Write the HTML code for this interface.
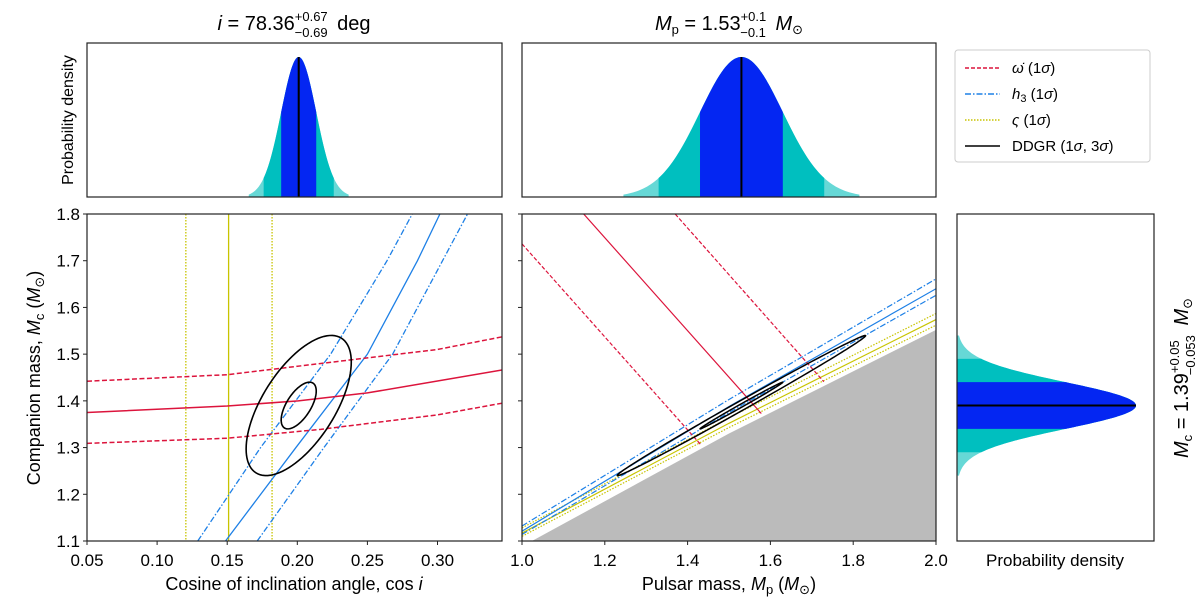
<!DOCTYPE html>
<html><head><meta charset="utf-8">
<style>
html,body{margin:0;padding:0;background:#fff;}
svg{display:block;font-family:"Liberation Sans","DejaVu Sans",sans-serif;}
</style></head>
<body>
<svg id="fig" width="1200" height="598" viewBox="0 0 1200 598" xmlns="http://www.w3.org/2000/svg"></svg>
<script>
// ---------- data ----------
const cosiTicks = [0.05,0.10,0.15,0.20,0.25,0.30];
const cosiTickLabels = ["0.05","0.10","0.15","0.20","0.25","0.30"];
const mpTicks = [1.0,1.2,1.4,1.6,1.8,2.0];
const mpTickLabels = ["1.0","1.2","1.4","1.6","1.8","2.0"];
const mcTicks = [1.1,1.2,1.3,1.4,1.5,1.6,1.7,1.8];
const mcTickLabels = ["1.1","1.2","1.3","1.4","1.5","1.6","1.7","1.8"];

// posterior parameters [mean, sigma]
const cosiPost = [0.201, 0.0125];
const mpPost = [1.53, 0.1];
const mcPost = [1.39, 0.05];
const ddgrRho = [0.62, 0.997]; // correlation in left / middle panels
const contourLevels = [1, 3];

// left panel curves (cos i, Mc)
const omdotMidL_x = [0.05,0.15,0.2007,0.25,0.346];
const omdotMidL_y = [1.375,1.389,1.40,1.417,1.466];
const omdotHiL_x = [0.05,0.15,0.2167,0.30,0.346];
const omdotHiL_y = [1.442,1.456,1.48,1.51,1.537];
const omdotLoL_x = [0.05,0.15,0.2167,0.30,0.346];
const omdotLoL_y = [1.309,1.320,1.339,1.37,1.395];
const h3MidL_y = [1.1,1.3,1.5,1.7,1.8];
const h3MidL_x = [0.1488,0.199,0.25,0.2857,0.3017];
const h3HiL_x = [0.129,0.1738,0.2238,0.264,0.282];
const h3LoL_x = [0.1714,0.219,0.268,0.3036,0.3214];
const sigmaL_x = [0.1205,0.151,0.182]; // lower, mid, upper

// middle panel curves (Mp, Mc)
const mpGrid = [1.0,1.5,2.0];
const h3MidM = [1.121,1.388,1.640];
const h3HiM = [1.132,1.403,1.661];
const h3LoM = [1.114,1.375,1.626];
const sigMidM = [1.117,1.352,1.574];
const sigHiM = [1.128,1.364,1.587];
const sigLoM = [1.110,1.343,1.562];
const excl_x = [1.024,1.5,2.0];
const excl_y = [1.1,1.33,1.552];
const omMidM_x = [1.149,1.578], omMidM_y = [1.8,1.373];
const omLoM_x = [1.0,1.431], omLoM_y = [1.736,1.307];
const omHiM_x = [1.370,1.729], omHiM_y = [1.8,1.441];

// ---------- helpers ----------
const NS="http://www.w3.org/2000/svg";
const svg=document.getElementById('fig');
function mk(tag,attrs,parent){const e=document.createElementNS(NS,tag);for(const k in attrs)e.setAttribute(k,attrs[k]);(parent||svg).appendChild(e);return e;}
function lin(d0,d1,p0,p1){return v=>p0+(v-d0)/(d1-d0)*(p1-p0);}
const L={x0:87,x1:502,y0:214,y1:541};
const M={x0:522,x1:936,y0:214,y1:541};
const R={x0:957,x1:1154,y0:214,y1:541};
const TL={x0:87,x1:502,y0:43,y1:197};
const TM={x0:522,x1:936,y0:43,y1:197};
const xL=lin(0.05,0.346,L.x0,L.x1);
const xM=lin(1.0,2.0,M.x0,M.x1);
const yMc=lin(1.1,1.8,L.y1,L.y0);
function gauss(v,m,s){return Math.exp(-0.5*((v-m)/s)**2);}
function pathFrom(xs,ys,fx,fy){return xs.map((v,i)=>(i?'L':'M')+fx(v).toFixed(2)+','+fy(ys[i]).toFixed(2)).join(' ');}
const RED="#dc143c",BLUE="#1e80e6",YEL="#c8c400";
const C1="#0426f2",C2="#00bfbf",C3="#66d8d6";

const defs=mk('defs',{});
[['cL',L],['cM',M],['cR',R],['cTL',TL],['cTM',TM]].forEach(([id,b])=>{const cp=mk('clipPath',{id:id},defs);mk('rect',{x:b.x0,y:b.y0,width:b.x1-b.x0,height:b.y1-b.y0},cp);});

function frame(b,name){const r=mk('rect',{x:b.x0,y:b.y0,width:b.x1-b.x0,height:b.y1-b.y0,fill:'none',stroke:'#222','stroke-width':1.2});

}

function topDist(b,fx,post,clipId,name){
  const g=mk('g',{'clip-path':'url(#'+clipId+')'});
  
  
  const [m,s]=post;const h=b.y1-b.y0-14;
  const bands=[[2.85,C3],[2,C2],[1,C1]];
  bands.forEach(([k,c])=>{
    let d='M'+fx(m-k*s)+','+b.y1;
    for(let i=0;i<=120;i++){const v=m-k*s+2*k*s*i/120;d+=' L'+fx(v).toFixed(2)+','+(b.y1-h*gauss(v,m,s)).toFixed(2);}
    d+=' L'+fx(m+k*s)+','+b.y1+' Z';
    mk('path',{d:d,fill:c},g);
  });
  mk('line',{x1:fx(m),x2:fx(m),y1:b.y1,y2:b.y1-h,stroke:'#000','stroke-width':2},g);
}
topDist(TL,xL,cosiPost,'cTL','cosi-posterior');
topDist(TM,xM,mpPost,'cTM','mp-posterior');
frame(TL,'top-left-axes');frame(TM,'top-middle-axes');

(function(){
  const g=mk('g',{'clip-path':'url(#cR)'});
  
  
  const [m,s]=mcPost;const w=179;
  [[3,C3],[2,C2],[1,C1]].forEach(([k,c])=>{
    let d='M'+R.x0+','+yMc(m-k*s);
    for(let i=0;i<=120;i++){const v=m-k*s+2*k*s*i/120;d+=' L'+(R.x0+w*gauss(v,m,s)).toFixed(2)+','+yMc(v).toFixed(2);}
    d+=' L'+R.x0+','+yMc(m+k*s)+' Z';
    mk('path',{d:d,fill:c},g);
  });
  mk('line',{x1:R.x0,x2:R.x0+w,y1:yMc(m),y2:yMc(m),stroke:'#000','stroke-width':2},g);
})();
frame(R,'right-axes');

(function(){
  const g=mk('g',{'clip-path':'url(#cL)'});
  
  
  function ln(d,c,dash,nm,w){const p=mk('path',{d:d,fill:'none',stroke:c,'stroke-width':w||1.3,'stroke-dasharray':dash||'none'},g);
    
    }
  sigmaL_x.forEach((v,i)=>ln('M'+xL(v)+','+L.y0+' L'+xL(v)+','+L.y1,YEL,i==1?'':'1.5,1.5','varsigma-line-'+i));
  ln(pathFrom(h3MidL_x,h3MidL_y,xL,yMc),BLUE,'','h3-central');
  ln(pathFrom(h3HiL_x,h3MidL_y,xL,yMc),BLUE,'6,2,1.5,2','h3-upper');
  ln(pathFrom(h3LoL_x,h3MidL_y,xL,yMc),BLUE,'6,2,1.5,2','h3-lower');
  ln(pathFrom(omdotMidL_x,omdotMidL_y,xL,yMc),RED,'','omdot-central',1.5);
  ln(pathFrom(omdotHiL_x,omdotHiL_y,xL,yMc),RED,'5,2.5','omdot-upper',1.5);
  ln(pathFrom(omdotLoL_x,omdotLoL_y,xL,yMc),RED,'5,2.5','omdot-lower',1.5);
  contourLevels.forEach(k=>{
    const [mx,sx]=cosiPost,[my,sy]=mcPost,r=ddgrRho[0];let d='';
    for(let i=0;i<=100;i++){const t=2*Math.PI*i/100;const X=mx+k*sx*Math.cos(t);const Y=my+k*sy*(r*Math.cos(t)+Math.sqrt(1-r*r)*Math.sin(t));d+=(i?'L':'M')+xL(X).toFixed(2)+','+yMc(Y).toFixed(2);}
    ln(d+'Z','#000','','ddgr-contour-'+k,1.6);
  });
})();
frame(L,'left-axes');

(function(){
  const g=mk('g',{'clip-path':'url(#cM)'});
  
  
  function ln(d,c,dash,nm,w){const p=mk('path',{d:d,fill:'none',stroke:c,'stroke-width':w||1.2,'stroke-dasharray':dash||'none'},g);
    
    }
  const ex=mk('path',{d:pathFrom(excl_x,excl_y,xM,yMc)+' L'+M.x1+','+M.y1+' L'+xM(excl_x[0])+','+M.y1+' Z',fill:'#bbbbbb'},g);
  
  
  ln(pathFrom(mpGrid,sigHiM,xM,yMc),YEL,'1.5,1.5','varsigma-upper');
  ln(pathFrom(mpGrid,sigMidM,xM,yMc),YEL,'','varsigma-central');
  ln(pathFrom(mpGrid,sigLoM,xM,yMc),YEL,'1.5,1.5','varsigma-lower');
  ln(pathFrom(mpGrid,h3HiM,xM,yMc),BLUE,'6,2,1.5,2','h3-upper');
  ln(pathFrom(mpGrid,h3MidM,xM,yMc),BLUE,'','h3-central');
  ln(pathFrom(mpGrid,h3LoM,xM,yMc),BLUE,'6,2,1.5,2','h3-lower');
  ln(pathFrom(omMidM_x,omMidM_y,xM,yMc),RED,'','omdot-central');
  ln(pathFrom(omLoM_x,omLoM_y,xM,yMc),RED,'4,2','omdot-lower');
  ln(pathFrom(omHiM_x,omHiM_y,xM,yMc),RED,'4,2','omdot-upper');
  contourLevels.forEach(k=>{
    const [mx,sx]=mpPost,[my,sy]=mcPost,r=ddgrRho[1];let d='';
    for(let i=0;i<=200;i++){const t=2*Math.PI*i/200;const X=mx+k*sx*Math.cos(t);const Y=my+k*sy*(r*Math.cos(t)+Math.sqrt(1-r*r)*Math.sin(t));d+=(i?'L':'M')+xM(X).toFixed(2)+','+yMc(Y).toFixed(2);}
    ln(d+'Z','#000','','ddgr-contour-'+k,1.5);
  });
})();
frame(M,'middle-axes');

function txt(x,y,s,attrs,name){const t=mk('text',Object.assign({x:x,y:y,'font-size':17,fill:'#000'},attrs||{}));t.textContent=s;
  
  return t;}
cosiTicks.forEach((v,i)=>{mk('line',{x1:xL(v),x2:xL(v),y1:L.y1,y2:L.y1+4,stroke:'#222'});txt(xL(v),566,cosiTickLabels[i],{'text-anchor':'middle'},'x-tick-label');});
mpTicks.forEach((v,i)=>{mk('line',{x1:xM(v),x2:xM(v),y1:M.y1,y2:M.y1+4,stroke:'#222'});txt(xM(v),566,mpTickLabels[i],{'text-anchor':'middle'},'x-tick-label');});
mcTicks.forEach((v,i)=>{mk('line',{x1:L.x0-4,x2:L.x0,y1:yMc(v),y2:yMc(v),stroke:'#222'});mk('line',{x1:M.x0-4,x2:M.x0,y1:yMc(v),y2:yMc(v),stroke:'#222'});txt(L.x0-7,yMc(v)+6,mcTickLabels[i],{'text-anchor':'end'},'y-tick-label');});
</script>
<svg width="1200" height="598" style="position:absolute;left:0;top:0;font-family:'Liberation Sans','DejaVu Sans',sans-serif">
 <text x="294" y="30" font-size="20" text-anchor="middle"><tspan font-style="italic">i</tspan> = 78.36<tspan font-size="13" dy="-9">+0.67</tspan><tspan font-size="13" dx="-33" dy="16">−0.69</tspan><tspan dy="-7" dx="4"> deg</tspan></text>
 <text x="729" y="30" font-size="20" text-anchor="middle"><tspan font-style="italic">M</tspan><tspan font-size="13" dy="4">p</tspan><tspan dy="-4"> = 1.53</tspan><tspan font-size="13" dy="-9">+0.1</tspan><tspan font-size="13" dx="-26" dy="16">−0.1</tspan><tspan dy="-7" dx="4"> </tspan><tspan font-style="italic">M</tspan><tspan font-size="13" dy="4">⊙</tspan></text>
 <text transform="translate(73,120) rotate(-90)" font-size="16" text-anchor="middle">Probability density</text>
 <text transform="translate(40,378) rotate(-90)" font-size="18" text-anchor="middle">Companion mass, <tspan font-style="italic">M</tspan><tspan font-size="13" dy="4">c</tspan><tspan dy="-4"> (</tspan><tspan font-style="italic">M</tspan><tspan font-size="13" dy="4">⊙</tspan><tspan dy="-4">)</tspan></text>
 <text x="294" y="590" font-size="18" text-anchor="middle">Cosine of inclination angle, cos <tspan font-style="italic">i</tspan></text>
 <text x="729" y="590" font-size="18" text-anchor="middle">Pulsar mass, <tspan font-style="italic">M</tspan><tspan font-size="13" dy="4">p</tspan><tspan dy="-4"> (</tspan><tspan font-style="italic">M</tspan><tspan font-size="13" dy="4">⊙</tspan><tspan dy="-4">)</tspan></text>
 <text x="1055" y="566" font-size="17" text-anchor="middle">Probability density</text>
 <text transform="translate(1188,378) rotate(-90)" font-size="20" text-anchor="middle"><tspan font-style="italic">M</tspan><tspan font-size="13" dy="4">c</tspan><tspan dy="-4"> = 1.39</tspan><tspan font-size="13" dy="-9">+0.05</tspan><tspan font-size="13" dx="-35" dy="16">−0.053</tspan><tspan dy="-7" dx="4"> </tspan><tspan font-style="italic">M</tspan><tspan font-size="13" dy="4">⊙</tspan></text>
 <g>
  <rect x="955" y="50" width="195" height="112" rx="3" fill="#fff" stroke="#ccc"/>
  <line x1="965" x2="1000" y1="68" y2="68" stroke="#dc143c" stroke-width="1.5" stroke-dasharray="4,2"/>
  <text x="1012" y="73" font-size="15"><tspan font-style="italic">ω̇</tspan> (1<tspan font-style="italic">σ</tspan>)</text>
  <line x1="965" x2="1000" y1="94" y2="94" stroke="#1e80e6" stroke-width="1.5" stroke-dasharray="6,2,1.5,2"/>
  <text x="1012" y="99" font-size="15"><tspan font-style="italic">h</tspan><tspan font-size="11" dy="3">3</tspan><tspan dy="-3"> (1</tspan><tspan font-style="italic">σ</tspan>)</text>
  <line x1="965" x2="1000" y1="120" y2="120" stroke="#c8c400" stroke-width="1.5" stroke-dasharray="1.5,1.5"/>
  <text x="1012" y="125" font-size="15"><tspan font-style="italic">ς</tspan> (1<tspan font-style="italic">σ</tspan>)</text>
  <line x1="965" x2="1000" y1="146" y2="146" stroke="#000" stroke-width="1.5"/>
  <text x="1012" y="151" font-size="15">DDGR (1<tspan font-style="italic">σ</tspan>, 3<tspan font-style="italic">σ</tspan>)</text>
 </g>
</svg>
</body></html>
